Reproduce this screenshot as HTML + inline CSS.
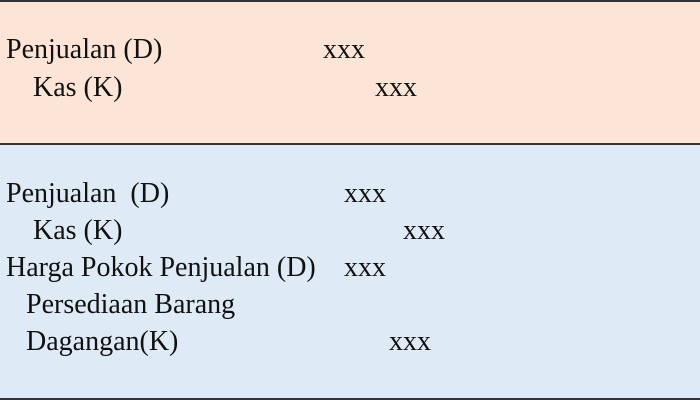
<!DOCTYPE html>
<html><head><meta charset="utf-8"><style>
body{margin:0;width:700px;height:400px;overflow:hidden;font-family:"Liberation Serif",serif;font-size:28px;color:#111}
.sec{position:absolute;left:0;width:700px}
.t{position:absolute;white-space:pre;line-height:1;transform:translateY(-50%)}
</style></head><body>
<div class="sec" style="top:0;height:143px;background:#fce4d6;border-top:2px solid #333"></div>
<div class="sec" style="top:143px;height:2px;background:#333"></div>
<div class="sec" style="top:145px;height:253px;background:#deeaf6"></div>
<div class="sec" style="top:398px;height:2px;background:#333"></div>

<div class="t" style="left:6px;top:50px">Penjualan (D)</div>
<div class="t" style="left:323px;top:50px">xxx</div>
<div class="t" style="left:33px;top:88px">Kas (K)</div>
<div class="t" style="left:375px;top:88px">xxx</div>

<div class="t" style="left:6px;top:194px">Penjualan  (D)</div>
<div class="t" style="left:344px;top:194px">xxx</div>
<div class="t" style="left:33px;top:231px">Kas (K)</div>
<div class="t" style="left:403px;top:231px">xxx</div>
<div class="t" style="left:6px;top:268px">Harga Pokok Penjualan (D)</div>
<div class="t" style="left:344px;top:268px">xxx</div>
<div class="t" style="left:26px;top:305px">Persediaan Barang</div>
<div class="t" style="left:26px;top:342px">Dagangan(K)</div>
<div class="t" style="left:389px;top:342px">xxx</div>
</body></html>
